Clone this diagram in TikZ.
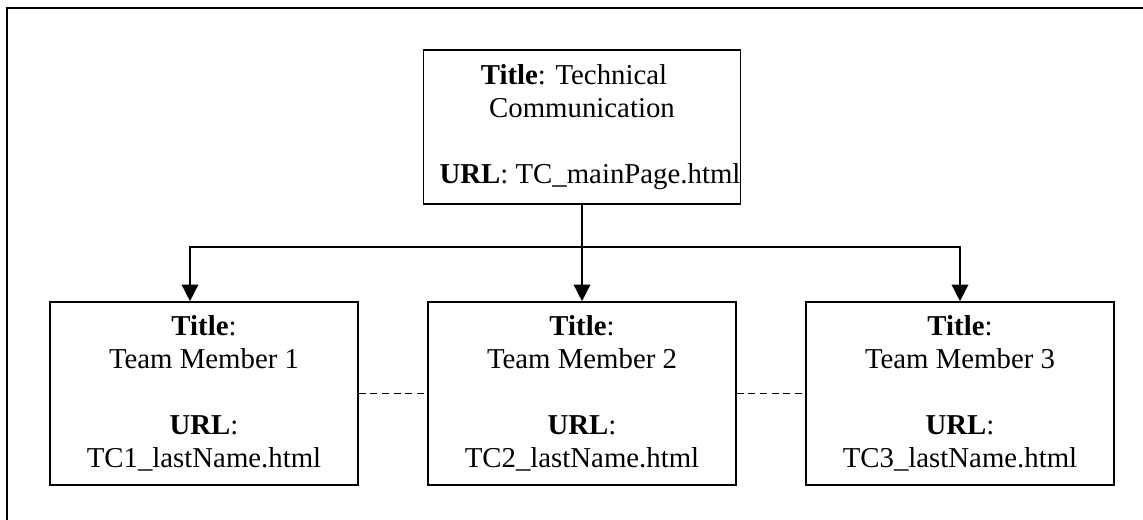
\documentclass[tikz,border=0pt]{standalone}
\usepackage{fontspec}
\setmainfont{Liberation Serif}
\usetikzlibrary{arrows.meta}
\begin{document}
\begin{tikzpicture}[x=0.75pt,y=-0.75pt,
  box/.style={draw, line width=1.2pt, inner sep=0pt, align=center,
    minimum width=231pt, font=\fontsize{21.6pt}{24.8pt}\selectfont},
  conn/.style={line width=1.1pt, -{Triangle[width=12.5pt,length=12.5pt]}},
  dashlink/.style={line width=1.1pt, dash pattern=on 5.3pt off 3.4pt}]
\useasboundingbox (0,0) rectangle (1143,520);
\fill[white] (0,0) rectangle (1143,520);
\draw[line width=1.2pt] (7,520) -- (7,8) -- (1143,8);
\node[box, minimum height=115.5pt] (top) at (582,127)
  {\textbf{Title}: Technical\hspace*{12pt}\\Communication\hspace*{12pt}\\[24.8pt]\hspace*{12pt}\textbf{URL}: TC\_mainPage.html};
\node[box, minimum height=137.25pt] (b1) at (204,393.5)
  {\textbf{Title}:\\Team Member 1\\[24.8pt]\textbf{URL}:\\TC1\_lastName.html};
\node[box, minimum height=137.25pt] (b2) at (582,393.5)
  {\textbf{Title}:\\Team Member 2\\[24.8pt]\textbf{URL}:\\TC2\_lastName.html};
\node[box, minimum height=137.25pt] (b3) at (960,393.5)
  {\textbf{Title}:\\Team Member 3\\[24.8pt]\textbf{URL}:\\TC3\_lastName.html};
\coordinate (j) at (582,247);
\draw[conn] (top.south) -- (b2.north);
\draw[conn] (j) -| ([xshift=-10.5pt]b1.north);
\draw[conn] (j) -| (b3.north);
\draw[dashlink] (b1.east) -- (b2.west);
\draw[dashlink] (b2.east) -- (b3.west);
\end{tikzpicture}
\end{document}
